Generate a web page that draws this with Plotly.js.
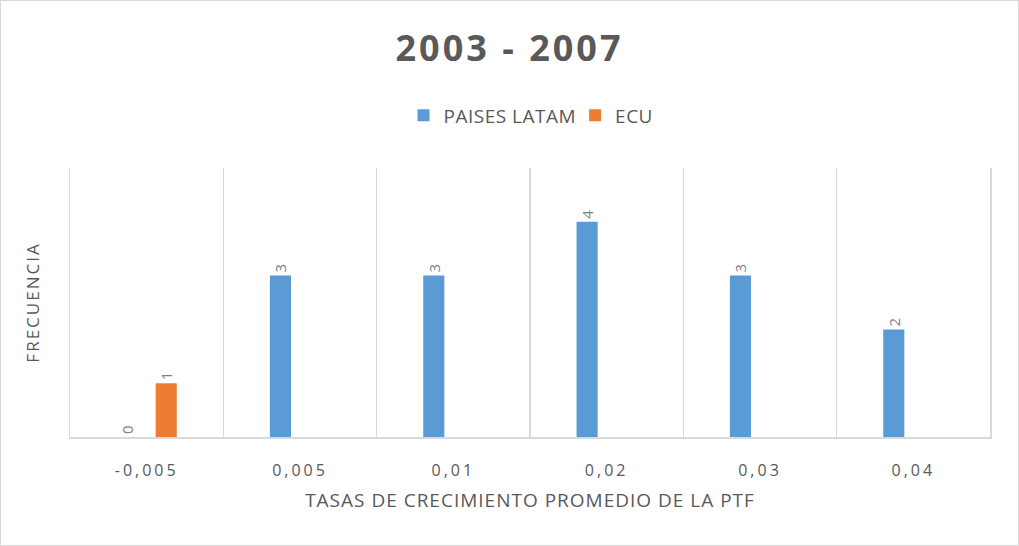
<!DOCTYPE html>
<html>
<head>
<meta charset="utf-8">
<script src="https://cdn.plot.ly/plotly-3.0.1.min.js"></script>
<style>
html,body{margin:0;padding:0;background:#fff;}
#chart{width:1017px;height:544px;border:1px solid #d9d9d9;}
#chart .gtitle{letter-spacing:3px;}
#chart .legendtext{letter-spacing:0.5px;}
#chart .xtick text{letter-spacing:3px;}
#chart .xtitle{letter-spacing:1px;}
#chart .ytitle{letter-spacing:2px;}
</style>
</head>
<body>
<div id="chart"></div>
<script>
var categories = ["-0,005", "0,005", "0,01", "0,02", "0,03", "0,04"];
var paisesLatam = [0, 3, 3, 4, 3, 2];
var ecu = [1, null, null, null, null, null];
var seriesNames = ["PAISES LATAM", "ECU"];

var labelFont = {family: "Open Sans, sans-serif", size: 15, color: "#808080"};

var data = [
  {
    type: "bar", name: seriesNames[0], x: categories, y: paisesLatam,
    marker: {color: "#5b9bd5"},
    text: paisesLatam.map(function(v){return v === null ? "" : String(v);}),
    textposition: "outside", textangle: -90, textfont: labelFont,
    cliponaxis: false, hoverinfo: "x+y"
  },
  {
    type: "bar", name: seriesNames[1], x: categories, y: ecu,
    marker: {color: "#ed7d31"},
    text: ecu.map(function(v){return v === null ? "" : String(v);}),
    textposition: "outside", textangle: -90, textfont: labelFont,
    cliponaxis: false, hoverinfo: "x+y"
  }
];

var layout = {
  width: 1017, height: 544,
  margin: {l: 69, r: 28, t: 167, b: 108},
  paper_bgcolor: "#ffffff", plot_bgcolor: "#ffffff",
  barmode: "group", bargap: 0.49, bargroupgap: 0.46,
  title: {text: "<b>2003 - 2007</b>", x: 0.5, xanchor: "center", y: 0.913, yanchor: "middle",
          font: {family: "Open Sans, sans-serif", size: 36, color: "#595959"}},
  showlegend: true,
  legend: {orientation: "h", x: 0.5, xanchor: "center", y: 1.196, yanchor: "middle",
           font: {family: "Open Sans, sans-serif", size: 19, color: "#595959"},
           traceorder: "normal", itemwidth: 30},
  xaxis: {
    type: "category", tickson: "boundaries", showgrid: true, gridcolor: "#d9d9d9", gridwidth: 1.5,
    showline: true, linecolor: "#d9d9d9", linewidth: 1.5, ticks: "",
    ticklabelstandoff: 18,
    tickfont: {family: "Open Sans, sans-serif", size: 16, color: "#595959"},
    title: {text: "TASAS DE CRECIMIENTO PROMEDIO DE LA PTF", standoff: 14,
            font: {family: "Open Sans, sans-serif", size: 19, color: "#595959"}},
    fixedrange: true
  },
  yaxis: {
    range: [0, 5], showgrid: false, zeroline: false, showticklabels: false, ticks: "",
    showline: true, mirror: true, linecolor: "#d9d9d9", linewidth: 1.5,
    title: {text: "FRECUENCIA", standoff: 24,
            font: {family: "Open Sans, sans-serif", size: 17, color: "#595959"}},
    fixedrange: true
  }
};

Plotly.newPlot("chart", data, layout, {displayModeBar: false, staticPlot: true});
</script>
</body>
</html>
